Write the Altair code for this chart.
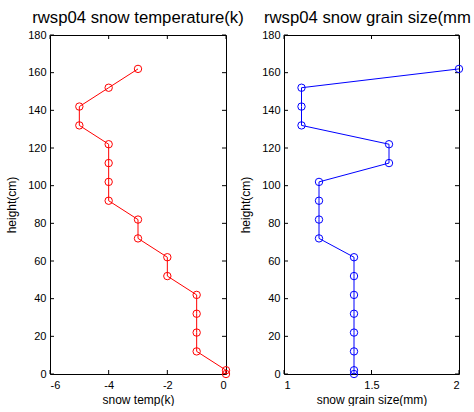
import altair as alt
import pandas as pd

# Snow-pit profile at site rwsp04
heights = [162, 152, 142, 132, 122, 112, 102, 92, 82, 72, 62, 52, 42, 32, 22, 12, 2, 0]
snow_temp = [-3, -4, -5, -5, -4, -4, -4, -4, -3, -3, -2, -2, -1, -1, -1, -1, 0, 0]
grain_size = [2.0, 1.1, 1.1, 1.1, 1.6, 1.6, 1.2, 1.2, 1.2, 1.2, 1.4, 1.4, 1.4, 1.4, 1.4, 1.4, 1.4, 1.4]

height_ticks = [0, 20, 40, 60, 80, 100, 120, 140, 160, 180]
temp_ticks = [-6, -4, -2, 0]
grain_ticks = [1, 1.5, 2]

FONT = "Liberation Sans"
H = 339
TICK = 4


def title_layer(title, x, align, limit=None):
    """Panel heading drawn just above the plot box."""
    extra = {"limit": limit, "ellipsis": "\u200b"} if limit else {}
    return alt.Chart(pd.DataFrame({"t": [title]})).mark_text(
        font=FONT, fontSize=16.7, color="black", baseline="alphabetic", align=align, **extra
    ).encode(text="t:N", x=alt.value(x), y=alt.value(-12))


def build(field, values, color, xdomain, xticks, xtitle, width, head):
    df = pd.DataFrame({"height": heights, field: values, "order": list(range(len(heights)))})
    xt = pd.DataFrame({field: xticks})
    yt = pd.DataFrame({"height": height_ticks})

    x = alt.X(
        f"{field}:Q",
        scale=alt.Scale(domain=xdomain, nice=False, zero=False),
        axis=alt.Axis(values=xticks, title=xtitle, labelPadding=5, titlePadding=4,
                      labelExpr="'' + datum.value"),
    )
    y = alt.Y(
        "height:Q",
        scale=alt.Scale(domain=[0, 180], nice=False, zero=False),
        axis=alt.Axis(values=height_ticks, title="height(cm)", labelPadding=4, titlePadding=9,
                      labelExpr="'' + datum.value"),
    )

    line = alt.Chart(df).mark_line(color=color, strokeWidth=1).encode(
        x=x, y=y, order="order:Q"
    )
    pts = alt.Chart(df).mark_point(
        shape="circle", filled=False, color=color, size=55, strokeWidth=1, opacity=1
    ).encode(x=x, y=y)

    # inward tick marks on all four sides of the box
    top = alt.Chart(xt).mark_rule(color="black", strokeWidth=1).encode(
        x=x, y=alt.value(0), y2=alt.value(TICK)
    )
    bottom = alt.Chart(xt).mark_rule(color="black", strokeWidth=1).encode(
        x=x, y=alt.value(H), y2=alt.value(H - TICK)
    )
    left = alt.Chart(yt).mark_rule(color="black", strokeWidth=1).encode(
        y=y, x=alt.value(0), x2=alt.value(TICK)
    )
    right = alt.Chart(yt).mark_rule(color="black", strokeWidth=1).encode(
        y=y, x=alt.value(width), x2=alt.value(width - TICK)
    )

    return alt.layer(top, bottom, left, right, line, pts, head).properties(width=width, height=H)


temp_panel = build("temp", snow_temp, "#ff0000", [-6, 0], temp_ticks, "snow temp(k)", 176,
                   title_layer("rwsp04 snow temperature(k)", 88, "center"))
grain_panel = build("grain", grain_size, "#0000ff", [1, 2], grain_ticks, "snow grain size(mm)", 175,
                    title_layer("rwsp04 snow grain size(mm)", -20, "left", limit=210))

chart = (
    alt.hconcat(temp_panel, grain_panel, spacing=58, bounds="flush")
    .properties(padding={"left": 5, "top": 9, "right": 0, "bottom": 0}, background="white")
    .configure_view(stroke="black", strokeWidth=1)
    .configure_axis(
        domain=False, ticks=False, tickSize=0, grid=False,
        labelFont=FONT, labelFontSize=11, labelColor="black",
        titleFont=FONT, titleFontSize=12, titleColor="black", titleFontWeight="normal",
    )
)

chart.save("out.html", embed_options={"renderer": "svg", "actions": False})
